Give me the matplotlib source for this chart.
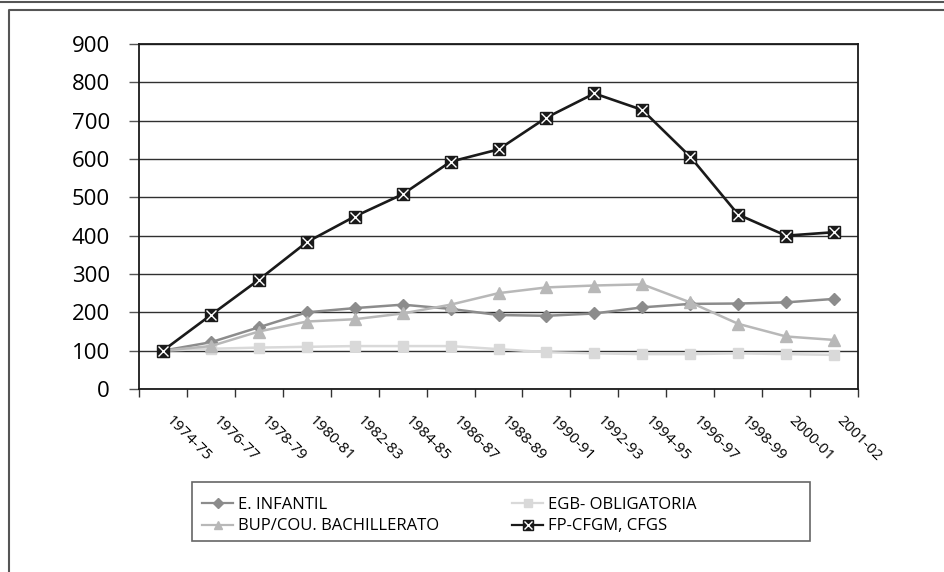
import matplotlib
matplotlib.use("Agg")
import matplotlib.pyplot as plt
from matplotlib.patches import Rectangle
from matplotlib.lines import Line2D
from matplotlib.transforms import ScaledTranslation

plt.rcParams['font.family'] = ['Open Sans', 'DejaVu Sans']

# data
cursos = ["1974-75", "1976-77", "1978-79", "1980-81", "1982-83", "1984-85",
          "1986-87", "1988-89", "1990-91", "1992-93", "1994-95", "1996-97",
          "1998-99", "2000-01", "2001-02"]
infantil = [100, 122, 161, 200, 211, 220, 209, 193, 191, 197, 213, 222, 223, 226, 235]
egb = [100, 105, 108, 110, 112, 112, 112, 104, 96, 93, 91, 91, 93, 91, 89]
bup = [100, 112, 150, 176, 182, 197, 220, 250, 265, 270, 273, 226, 170, 137, 128]
fp = [100, 193, 285, 383, 450, 508, 593, 625, 708, 771, 728, 606, 455, 400, 409]
yticks = [0, 100, 200, 300, 400, 500, 600, 700, 800, 900]

W, H = 944, 572
fig = plt.figure(figsize=(W / 100, H / 100), dpi=100)
ax = fig.add_axes([139 / W, 1 - 389 / H, (858 - 139) / W, (389 - 44) / H])

x = list(range(len(cursos)))
ax.plot(x, infantil, color='#8c8c8c', lw=1.8, marker='D', ms=6, zorder=3)
ax.plot(x, egb, color='#d9d9d9', lw=1.8, marker='s', ms=7, zorder=3)
ax.plot(x, bup, color='#b8b8b8', lw=1.8, marker='^', ms=8, zorder=3)
ax.plot(x, fp, color='#1a1a1a', lw=1.9, marker='s', ms=8.5, zorder=4)
ax.plot(x, fp, ls='none', marker='x', ms=6.5, mew=1.0, color='white', zorder=5)

ax.set_xlim(-0.5, len(cursos) - 0.5)
ax.set_ylim(0, 900)
ax.set_yticks(yticks)
ax.set_yticklabels([str(v) for v in yticks], fontsize=16)
ax.yaxis.grid(True, color='#303030', lw=1.0)
ax.set_axisbelow(True)
for s in ax.spines.values():
    s.set_color('#1a1a1a')
    s.set_linewidth(1.3)
ax.tick_params(axis='y', length=7, width=1.0, color='#555555', pad=14)

ax.set_xticks(x)
ax.set_xticklabels(cursos, fontsize=11, rotation=-45, ha='left', rotation_mode='anchor')
ax.set_xticks([i - 0.5 for i in range(len(cursos) + 1)], minor=True)
ax.tick_params(axis='x', which='major', length=0, pad=17.5)
ax.tick_params(axis='x', which='minor', length=6, width=1.0, color='#333333')
shift = ScaledTranslation(10 / 100, 0, fig.dpi_scale_trans)
for lab in ax.get_xticklabels():
    lab.set_transform(lab.get_transform() + shift)

# legend box
fig.patches.append(Rectangle((192 / W, 1 - 541 / H), (810 - 192) / W, (541 - 482) / H,
                             transform=fig.transFigure, fill=False, ec='#666666', lw=1.2))
h_inf = Line2D([], [], color='#8c8c8c', lw=1.6, marker='D', ms=5)
h_egb = Line2D([], [], color='#d9d9d9', lw=1.6, marker='s', ms=6)
h_bup = Line2D([], [], color='#b8b8b8', lw=1.6, marker='^', ms=6)
h_fp1 = Line2D([], [], color='#1a1a1a', lw=1.6, marker='s', ms=7)
h_fp2 = Line2D([], [], ls='none', marker='x', ms=5.5, mew=1.0, color='white')
leg_kw = dict(frameon=False, loc='upper left', prop={'size': 12}, handlelength=1.9,
              handletextpad=0.3, labelspacing=0.35, borderpad=0.2)
fig.legend([h_inf, h_bup], ["E. INFANTIL", "BUP/COU. BACHILLERATO"],
           bbox_to_anchor=(190 / W, 1 - 485 / H), **leg_kw)
fig.legend([h_egb, (h_fp1, h_fp2)], ["EGB- OBLIGATORIA", "FP-CFGM, CFGS"],
           bbox_to_anchor=(500 / W, 1 - 485 / H), **leg_kw)

# outer frame lines
fig.add_artist(Line2D([0, 1], [1 - 1.5 / H, 1 - 1.5 / H], color='#555555', lw=1.5,
                      transform=fig.transFigure))
fig.add_artist(Line2D([8.5 / W, 8.5 / W, 1], [0, 1 - 10 / H, 1 - 10 / H], color='#555555',
                      lw=1.5, transform=fig.transFigure))

fig.savefig("out.png", dpi=100)
